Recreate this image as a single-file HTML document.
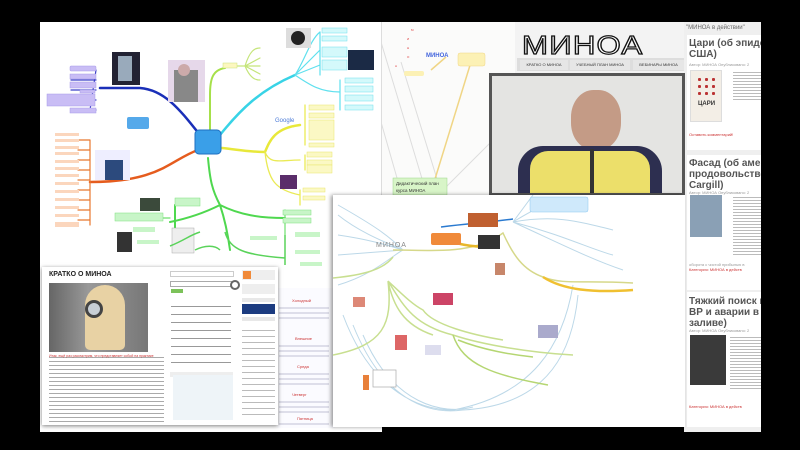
<!DOCTYPE html>
<html><head><meta charset="utf-8"><style>
*{margin:0;padding:0;box-sizing:border-box}
body{width:800px;height:450px;background:#000;position:relative;overflow:hidden;font-family:"Liberation Sans","Noto Sans CJK SC",sans-serif}
.a{position:absolute}
.t{position:absolute;white-space:nowrap}
</style></head><body>

<!-- main mind map -->
<div class="a" style="left:40px;top:22px;width:342px;height:410px;background:#fff"></div>
<svg class="a" style="left:0;top:0" width="800" height="450">
 <g fill="none" stroke-linecap="round">
  <path d="M200,135 C180,110 165,90 140,88 L100,88" stroke="#1a2fb8" stroke-width="2.5"/>
  <path d="M96,70 L90,110 M96,70 h-25 M96,80 h-25 M96,90 h-25 M96,100 h-25 M96,110 h-25" stroke="#3b40c8" stroke-width="1.2"/>
  <path d="M198,150 C170,160 160,182 90,182" stroke="#e55c1e" stroke-width="2.5"/>
  <path d="M90,140 L90,225 M90,140 h-12 M90,150 h-12 M90,160 h-12 M90,170 h-12 M90,180 h-12 M90,190 h-12 M90,200 h-12 M90,210 h-12 M90,220 h-12" stroke="#e8782f" stroke-width="1.2"/>
  <path d="M210,135 L210,95 C210,80 212,70 225,68" stroke="#a6e04a" stroke-width="2"/>
  <path d="M235,66 h10 M245,66 C250,50 255,48 260,48 M245,66 L260,58 M245,66 L260,66 M245,66 L260,74 M245,66 C250,78 255,80 260,80" stroke="#c5e57a" stroke-width="1.2"/>
  <path d="M220,135 C240,110 260,90 295,75" stroke="#38d3e6" stroke-width="2.5"/>
  <path d="M295,75 C305,60 310,40 320,32 M295,75 L320,50 M295,75 L320,65 M295,75 C310,85 320,92 340,92 M340,80 L340,110 M320,32 L320,75" stroke="#5fe0ee" stroke-width="1.2"/>
  <path d="M222,148 C240,150 250,152 265,152 C270,140 275,128 300,125" stroke="#e8e83a" stroke-width="2.5"/>
  <path d="M265,152 C270,165 280,160 300,160 M265,152 C268,180 275,190 300,195 M305,105 L305,145 M305,155 L305,170 M300,190 L300,205" stroke="#eaea55" stroke-width="1.3"/>
  <path d="M208,158 C210,180 212,190 220,205 C200,215 180,220 170,222 M220,205 C240,215 260,218 285,218 M220,205 C225,220 228,235 230,250 M175,205 L175,230" stroke="#4fd84f" stroke-width="2"/>
  <path d="M285,210 L285,235 M150,218 h20" stroke="#6ee06e" stroke-width="1.2"/>
 </g>
 <g fill="#c9bdf5" stroke="#a79ae8" stroke-width=".5">
  <rect x="70" y="66" width="26" height="5" rx="1"/><rect x="70" y="74" width="26" height="5"/><rect x="70" y="82" width="26" height="6"/><rect x="80" y="90" width="15" height="3"/><rect x="47" y="94" width="48" height="12"/><rect x="70" y="108" width="26" height="5"/>
 </g>
 <g fill="#fbd6bd">
  <rect x="55" y="133" width="24" height="3"/><rect x="55" y="139" width="24" height="3"/><rect x="55" y="146" width="24" height="3"/><rect x="55" y="152" width="24" height="3"/><rect x="55" y="160" width="24" height="3"/><rect x="55" y="167" width="24" height="3"/><rect x="55" y="174" width="24" height="3"/><rect x="55" y="182" width="24" height="3"/><rect x="55" y="190" width="24" height="3"/><rect x="55" y="198" width="24" height="3"/><rect x="55" y="206" width="24" height="3"/><rect x="55" y="214" width="24" height="3"/><rect x="55" y="222" width="24" height="5"/>
 </g>
 <g fill="#d4f9fb" stroke="#6fe0ec" stroke-width=".5">
  <rect x="322" y="28" width="25" height="5"/><rect x="322" y="36" width="25" height="5"/><rect x="322" y="47" width="25" height="10"/><rect x="322" y="60" width="25" height="10"/><rect x="345" y="78" width="28" height="5"/><rect x="345" y="86" width="28" height="6"/><rect x="345" y="95" width="28" height="6"/><rect x="345" y="105" width="28" height="5"/>
 </g>
 <g fill="#fbf8c4" stroke="#e9e66a" stroke-width=".5">
  <rect x="309" y="105" width="25" height="5"/><rect x="309" y="113" width="25" height="5"/><rect x="309" y="120" width="25" height="20"/><rect x="309" y="143" width="25" height="4"/><rect x="307" y="152" width="25" height="5"/><rect x="307" y="160" width="25" height="5"/><rect x="307" y="165" width="25" height="8"/><rect x="303" y="188" width="22" height="4"/><rect x="303" y="196" width="22" height="4"/>
 </g>
 <g fill="#c8f5c8" stroke="#7ee07e" stroke-width=".5">
  <rect x="175" y="198" width="25" height="8"/><rect x="115" y="213" width="48" height="8"/><rect x="283" y="210" width="28" height="5"/><rect x="283" y="218" width="28" height="5"/>
 </g>
 <rect x="223" y="63" width="14" height="5" fill="#fcf7c0" stroke="#cde57a" stroke-width=".5"/>
 <rect x="127" y="117" width="22" height="12" rx="2" fill="#55a9ea"/>
 <rect x="195" y="130" width="26" height="24" rx="4" fill="#3a9fe8" stroke="#1e6fc0"/>
 <rect x="112" y="52" width="28" height="33" fill="#223"/><rect x="118" y="56" width="14" height="25" fill="#9ab"/>
 <rect x="168" y="60" width="37" height="42" fill="#e6d8ea"/><rect x="174" y="70" width="24" height="32" fill="#888"/><circle cx="184" cy="70" r="6" fill="#caa"/>
 <rect x="286" y="28" width="25" height="20" fill="#ddd"/><circle cx="298" cy="38" r="7" fill="#222"/>
 <rect x="348" y="50" width="26" height="20" fill="#1b2a45"/>
 <rect x="95" y="150" width="35" height="30" fill="#eef"/><rect x="105" y="160" width="18" height="20" fill="#2c4a7d"/>
 <rect x="280" y="175" width="17" height="14" fill="#5a2d6a"/>
 <rect x="140" y="198" width="20" height="13" fill="#3b4a3b"/>
 <text x="275" y="122" font-size="6" fill="#4a7ad8">Google</text>
 <rect x="117" y="232" width="15" height="20" fill="#333"/>
 <rect x="172" y="228" width="22" height="25" fill="#eee" stroke="#aaa" stroke-width=".5"/>
 <g fill="none" stroke="#5ad35a" stroke-width="1.5">
  <path d="M225,232 C230,250 245,255 285,258 M285,235 L285,265 M170,246 C185,240 190,235 200,232 M195,250 C205,245 215,245 220,250"/>
 </g>
 <g fill="#c8f5c8"><rect x="133" y="227" width="22" height="5"/><rect x="137" y="240" width="22" height="4"/><rect x="250" y="236" width="27" height="4"/><rect x="295" y="232" width="25" height="5"/><rect x="295" y="250" width="25" height="4"/><rect x="300" y="262" width="22" height="4"/></g>
</svg>

<!-- middle mind map panel -->
<div class="a" style="left:381px;top:22px;width:136px;height:175px;background:#fbfbfa;border-left:1px solid #ddd"></div>
<svg class="a" style="left:381px;top:22px" width="136" height="175">
 <g fill="none" stroke="#ddd" stroke-width="1"><path d="M0,20 L45,170 M0,100 L20,170 M60,170 L130,100 M60,170 L20,40"/></g>
 <path d="M50,170 L90,40" stroke="#f0d585" stroke-width="1.5" fill="none"/>
 <path d="M50,48 L65,35" stroke="#f0d585" stroke-width="1.5"/>
 <text x="45" y="35" font-size="6" font-weight="bold" fill="#4466dd">МИНОА</text>
 <g font-size="3" fill="#d33"><text x="30" y="9">М</text><text x="26" y="18">И</text><text x="26" y="27">Н</text><text x="26" y="36">О</text><text x="14" y="45">А</text></g>
 <rect x="77" y="31" width="27" height="13" rx="2" fill="#fcf1b5" stroke="#f0d585" stroke-width=".5"/>
 <rect x="23" y="49" width="20" height="5" rx="2" fill="#fcf1b5"/>
 <rect x="12" y="156" width="54" height="17" fill="#d8f5c8" stroke="#9cd68a" stroke-width=".5"/>
 <text x="15" y="163" font-size="4.5" fill="#333">Дидактический план</text>
 <text x="15" y="170" font-size="4.5" fill="#333">курса МИНОА</text>
</svg>

<!-- website header -->
<div class="a" style="left:515px;top:22px;width:170px;height:55px;background:#f3f3f3"></div>
<div class="t" style="left:522px;top:30px;font-size:26px;font-weight:normal;letter-spacing:1px;color:#fff;-webkit-text-stroke:1.2px #111;transform:scaleX(1.2);transform-origin:left">МИНОА</div>
<div class="a" style="left:517px;top:58px;width:167px;height:13px;background:#ddd"></div>
<div class="t" style="left:520px;top:60px;width:48px;height:10px;background:#e6e6e6;font-size:4px;text-align:center;line-height:10px;color:#333">КРАТКО О МИНОА</div>
<div class="t" style="left:570px;top:60px;width:60px;height:10px;background:#e6e6e6;font-size:4px;text-align:center;line-height:10px;color:#333">УЧЕБНЫЙ ПЛАН МИНОА</div>
<div class="t" style="left:633px;top:60px;width:51px;height:10px;background:#e6e6e6;font-size:4px;text-align:center;line-height:10px;color:#333">ВЕБИНАРЫ МИНОА</div>

<!-- right blog column -->
<div class="a" style="left:684px;top:22px;width:77px;height:410px;background:#efefef;overflow:hidden">
<div class="a" style="left:3px;top:13px;width:74px;height:115px;background:#fff"></div>
<div class="a" style="left:3px;top:133px;width:74px;height:135px;background:#fff"></div>
<div class="a" style="left:3px;top:270px;width:74px;height:135px;background:#fff"></div>
<div class="t" style="left:2px;top:3px;font-size:6px;color:#666">"МИНОА в действии"</div>
<div class="t" style="left:5px;top:16px;font-size:10px;font-weight:bold;color:#555;line-height:11px">Цари (об эпидем<br>США)</div>
<div class="t" style="left:5px;top:40px;font-size:4px;color:#999">Автор: МИНОА Опубликовано: 2</div>
<div class="a" style="left:6px;top:48px;width:32px;height:52px;background:#f3eee6;border:1px solid #ddd"></div>
<div class="a" style="left:12px;top:54px;width:20px;height:20px;background:radial-gradient(#b33 30%,#f3eee6 32%) 0 0/7px 7px"></div>
<div class="t" style="left:14px;top:79px;font-size:6px;font-weight:bold;color:#333">ЦАРИ</div>
<div class="a" style="left:49px;top:48px;width:28px;height:32px;background:repeating-linear-gradient(#fff 0 2px,#bbb 2px 3px)"></div>
<div class="t" style="left:5px;top:110px;font-size:4px;color:#c33">Оставить комментарий!</div>
<div class="t" style="left:5px;top:136px;font-size:10px;font-weight:bold;color:#555;line-height:11px">Фасад (об амери<br>продовольствен<br>Cargill)</div>
<div class="t" style="left:5px;top:168px;font-size:4px;color:#999">Автор: МИНОА Опубликовано: 2</div>
<div class="a" style="left:6px;top:173px;width:32px;height:42px;background:#8aa0b5"></div>
<div class="a" style="left:49px;top:173px;width:28px;height:62px;background:repeating-linear-gradient(#fff 0 2px,#bbb 2px 3px)"></div>
<div class="t" style="left:5px;top:240px;font-size:4px;color:#999">оборота с чистой прибылью в</div>
<div class="t" style="left:5px;top:245px;font-size:4px;color:#c33">Категория: МИНОА в действ</div>
<div class="t" style="left:5px;top:274px;font-size:10px;font-weight:bold;color:#555;line-height:11px">Тяжкий поиск ко<br>ВР и аварии в Ме<br>заливе)</div>
<div class="t" style="left:5px;top:306px;font-size:4px;color:#999">Автор: МИНОА Опубликовано: 2</div>
<div class="a" style="left:6px;top:313px;width:36px;height:50px;background:#3a3a3a"></div>
<div class="a" style="left:46px;top:313px;width:31px;height:55px;background:repeating-linear-gradient(#fff 0 2px,#bbb 2px 3px)"></div>
<div class="t" style="left:5px;top:382px;font-size:4px;color:#c33">Категория: МИНОА в действ</div>
</div>

<!-- video -->
<div class="a" style="left:489px;top:73px;width:196px;height:123px;background:#e4e4e2;border:3px solid #555;overflow:hidden">
<div class="a" style="left:79px;top:14px;width:50px;height:60px;border-radius:45%;background:#c49b86"></div>
<div class="a" style="left:26px;top:70px;width:144px;height:60px;border-radius:25px 25px 0 0;background:#2d2f50"></div>
<div class="a" style="left:38px;top:75px;width:120px;height:55px;border-radius:18px 18px 0 0;background:#ecdf6a"></div>
<div class="a" style="left:98px;top:73px;width:4px;height:50px;background:#333"></div>
</div>

<!-- red-headings page -->
<div class="a" style="left:277px;top:288px;width:58px;height:140px;background:#fbfbff"></div>
<svg class="a" style="left:277px;top:288px" width="58" height="140">
 <g fill="#c33" font-size="4"><text x="15" y="14">Холодный</text><text x="18" y="52">Внешние</text><text x="20" y="80">Среда</text><text x="15" y="108">Четверг</text><text x="20" y="132">Пятница</text></g>
 <g stroke="#88a" stroke-width=".6"><path d="M2,20h50M2,25h50M2,30h50M2,58h50M2,63h50M2,68h50M2,86h50M2,91h50M2,96h50M2,114h50M2,119h50M2,124h50M2,136h50"/></g>
</svg>

<!-- bottom-right mindmap -->
<div class="a" style="left:333px;top:195px;width:352px;height:232px;background:#fff;box-shadow:-2px 0 4px rgba(0,0,0,.4)"></div>
<svg class="a" style="left:333px;top:195px" width="352" height="232">
 <g fill="none" stroke="#bcd8e8" stroke-width="1">
  <path d="M5,10 C40,30 55,40 70,55 M5,20 C30,40 60,50 70,55 M5,40 C40,45 60,52 70,55 M5,60 L70,55 M5,90 C40,80 60,60 70,55"/>
  <path d="M10,120 C40,200 90,215 120,215 C200,200 230,150 240,90 M20,130 C50,205 95,220 130,215 C220,210 240,150 245,100 M30,140 C60,210 110,220 140,212"/>
  <path d="M180,27 C200,15 210,8 240,5 M180,27 C220,20 240,25 280,35 M180,27 C230,40 260,55 280,60 M180,27 C230,50 260,65 290,75 M180,27 L200,0"/>
 </g>
 <g fill="none" stroke-width="1.5">
  <path d="M108,32 C140,28 150,28 180,24" stroke="#2a7ad0"/>
  <path d="M60,55 C100,55 140,60 170,38 C180,60 190,75 210,82 C230,90 250,85 300,88" stroke="#d6d88a"/>
  <path d="M108,40 C120,50 140,52 160,52" stroke="#e8b82a" stroke-width="2.5"/>
  <path d="M210,82 C230,95 260,98 300,95" stroke="#f0c030" stroke-width="2.5"/>
  <path d="M0,83 C30,80 50,75 60,62 M55,86 C60,110 70,130 100,140 M55,86 C70,110 80,130 120,140 C150,150 200,158 240,160 M55,86 C60,130 50,150 0,160 M55,86 C70,100 80,110 90,115 C100,130 140,140 170,145" stroke="#c8df90"/>
  <path d="M125,145 C150,155 180,160 200,162 M120,140 C130,170 160,180 215,190" stroke="#b5d672"/>
 </g>
 <rect x="98" y="38" width="30" height="12" rx="2" fill="#f08a3a"/>
 <rect x="135" y="18" width="30" height="14" fill="#c06030"/>
 <rect x="145" y="40" width="22" height="14" fill="#333"/>
 <rect x="197" y="2" width="58" height="15" rx="2" fill="#cfe9fb" stroke="#8cc8f0" stroke-width=".5"/>
 <text x="43" y="52" font-size="7" fill="#888" letter-spacing="1">МИНОА</text>
 <rect x="162" y="68" width="10" height="12" fill="#c7866a"/>
 <rect x="205" y="130" width="20" height="13" fill="#aac"/>
 <rect x="40" y="175" width="23" height="17" fill="#fff" stroke="#aaa" stroke-width=".7"/>
 <rect x="30" y="180" width="6" height="15" fill="#e8803a"/>
 <rect x="20" y="102" width="12" height="10" fill="#d87"/>
 <rect x="62" y="140" width="12" height="15" fill="#d66"/>
 <rect x="100" y="98" width="20" height="12" fill="#c46"/>
 <rect x="92" y="150" width="16" height="10" fill="#dde"/>
</svg>

<!-- bottom-left page -->
<div class="a" style="left:42px;top:267px;width:236px;height:158px;background:#fff;box-shadow:0 1px 4px rgba(0,0,0,.5)"></div>
<div class="t" style="left:49px;top:271px;font-size:7px;font-weight:bold;color:#222">КРАТКО О МИНОА</div>
<div class="a" style="left:49px;top:283px;width:99px;height:69px;background:linear-gradient(90deg,#666,#999 40%,#777)"></div>
<div class="a" style="left:85px;top:285px;width:40px;height:65px;border-radius:20px 20px 5px 5px;background:#e8d2a4"></div>
<div class="a" style="left:85px;top:300px;width:18px;height:18px;border-radius:50%;border:3px solid #444;background:#c8cfd6"></div>
<div class="a" style="left:49px;top:354px;width:115px;height:68px;background:repeating-linear-gradient(#fff 0 3px,#aaa 3px 4px)"></div>
<div class="t" style="left:49px;top:354px;font-size:3.5px;color:#c33">Итак, ещё раз рассмотрим, что представляет собой на практике</div>
<div class="a" style="left:170px;top:271px;width:64px;height:6px;border:1px solid #ccc"></div>
<div class="a" style="left:170px;top:281px;width:62px;height:6px;border:1px solid #aaa"></div>
<div class="a" style="left:171px;top:289px;width:12px;height:4px;background:#7cc25a"></div>
<div class="a" style="left:171px;top:300px;width:60px;height:70px;background:repeating-linear-gradient(#fff 0 6px,#999 6px 7px,#fff 7px 8px)"></div>
<div class="a" style="left:170px;top:372px;width:63px;height:5px;background:#eee"></div>
<div class="a" style="left:173px;top:375px;width:60px;height:45px;background:#eef4f8"></div>
<div class="a" style="left:242px;top:270px;width:33px;height:10px;background:#eee"></div>
<div class="a" style="left:243px;top:271px;width:8px;height:8px;background:#f08a3a"></div>
<div class="a" style="left:242px;top:284px;width:33px;height:10px;background:#eee"></div>
<div class="a" style="left:242px;top:298px;width:33px;height:4px;background:#e8e8e8"></div>
<div class="a" style="left:242px;top:304px;width:33px;height:10px;background:#1c3c80"></div>
<div class="a" style="left:242px;top:317px;width:33px;height:4px;background:#e8e8e8"></div>
<div class="a" style="left:242px;top:325px;width:33px;height:90px;background:repeating-linear-gradient(#fff 0 5px,#bbb 5px 6px)"></div>
<div class="a" style="left:230px;top:280px;width:10px;height:10px;border-radius:50%;border:2px solid #666"></div>
</body></html>
